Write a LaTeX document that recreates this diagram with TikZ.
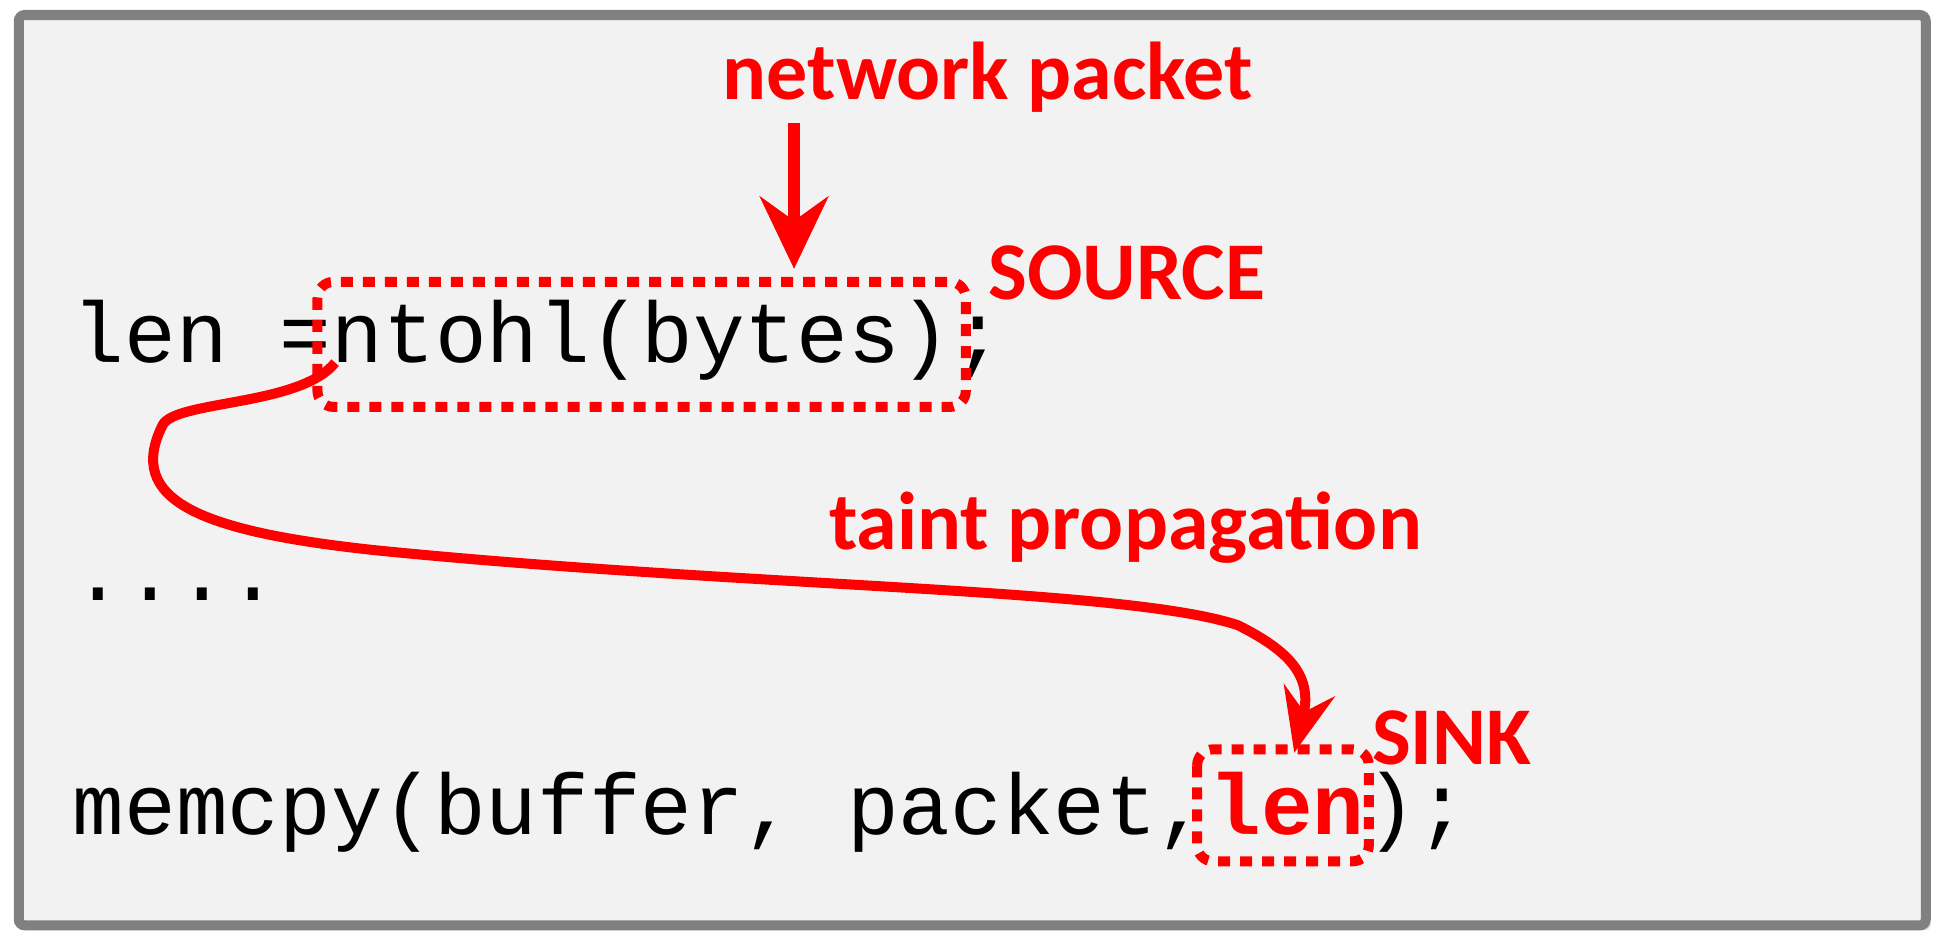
\documentclass[tikz,border=0pt]{standalone}
\usepackage{fontspec}
\setmainfont{Carlito}
\setmonofont{Liberation Mono}
\usetikzlibrary{positioning, arrows.meta, shadows}
\definecolor{panel}{RGB}{242,242,242}
\definecolor{rim}{RGB}{128,128,128}
\tikzset{
  tag/.style={text=red, font=\bfseries\fontsize{41}{45}\selectfont, inner sep=0pt},
  code/.style={font=\ttfamily\fontsize{43}{47}\selectfont, inner sep=0pt, anchor=base west},
  hotspot/.style={draw=red, line width=5pt, dash pattern=on 6pt off 5pt, rounded corners=8pt},
  flow/.style={draw=red, line width=5pt},
}
\begin{document}
\begin{tikzpicture}[x=0.625pt,y=-0.625pt]
\useasboundingbox (0,0) rectangle (1565,755);

% frame
\draw[rim, line width=5pt, fill=panel, rounded corners=3pt, drop shadow={opacity=0.3}] (15,12) rectangle (1540,740);

% first line
\node[code] (lhs) at (58,290) {len~=~};
\node[code] (src) at (lhs.base east) {ntohl(bytes)};
\node[code] (semi) at (src.base east) {;};
\draw[hotspot] ([xshift=-7pt,yshift=9pt]src.north west) rectangle ([xshift=7pt,yshift=-13pt]src.south east);

% dots
\node[code] (dots) at (58,480) {....};

% last line
\node[code] (call) at (58,667) {memcpy(buffer,~packet,~};
\node[code, text=red, font=\ttfamily\bfseries\fontsize{43}{47}\selectfont] (snk) at (call.base east) {len};
\node[code] (tail) at (snk.base east) {);};
\draw[hotspot] ([xshift=-6pt,yshift=11pt]snk.north west) rectangle ([xshift=2pt,yshift=-13pt]snk.south east);

% labels
\node[tag] (pkt) at (790,62) {network packet};
\node[tag, anchor=west] (srclbl) at (790,218) {SOURCE};
\node[tag] (tnt) at (900,422) {taint propagation};
\node[tag, anchor=west] (snklbl) at (1097,590) {SINK};

% arrows
\coordinate (pktend) at (635,215);
\coordinate (lenstart) at (268,290);
\coordinate (lenend) at (1035,602);
\draw[flow, line width=6pt, -{Stealth[width=34pt,length=36pt,inset=12pt]}] (635,98) -- (pktend);
\draw[flow, -{Stealth[width=26pt,length=32pt,inset=11pt]}] (lenstart) .. controls (240,325) and (140,320) .. (130,340)
  .. controls (100,400) and (160,425) .. (300,440)
  .. controls (600,470) and (900,470) .. (990,500)
  .. controls (1030,520) and (1050,540) .. (lenend);
\end{tikzpicture}
\end{document}
